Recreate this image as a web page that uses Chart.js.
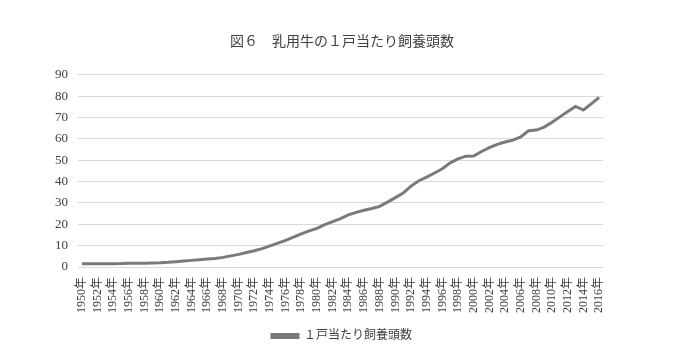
<!DOCTYPE html>
<html><head><meta charset="utf-8">
<script src="https://cdn.jsdelivr.net/npm/chart.js@4"></script>
<style>html,body{margin:0;padding:0;background:#fff}#wrap{width:684px;height:353px}</style>
</head><body><div id="wrap"><canvas id="c"></canvas></div>
<script>
const titleText = '図６　乳用牛の１戸当たり飼養頭数';
const seriesName = '１戸当たり飼養頭数';
const years = [];
for (let y = 1950; y <= 2016; y++) years.push(y + '年');
const values = [
 1.5,1.5,1.5,1.5,1.5,1.6,1.8,1.7,1.8,1.9,
 2.0,2.2,2.5,2.8,3.1,3.4,3.7,4.0,4.5,5.2,
 5.9,6.8,7.6,8.6,9.9,11.2,12.5,14.0,15.5,16.9,
 18.1,19.8,21.2,22.7,24.4,25.6,26.6,27.4,28.4,30.4,
 32.5,34.6,37.9,40.4,42.1,44.0,46.0,48.8,50.6,51.9,
 52.0,54.1,55.9,57.4,58.5,59.4,60.9,63.8,64.1,65.5,
 67.8,70.3,72.8,75.2,73.5,76.4,79.4
];
const yTicks = [0,10,20,30,40,50,60,70,80,90];
const serif = '"Liberation Serif", "DejaVu Serif", "Noto Sans CJK JP", serif';

new Chart(document.getElementById('c'), {
  type: 'line',
  data: { labels: years, datasets: [{
    label: seriesName, data: values,
    borderColor: '#7a7a7a', backgroundColor: '#7a7a7a',
    borderWidth: 3, pointRadius: 0, tension: 0
  }]},
  options: {
    responsive: true, maintainAspectRatio: false, animation: false,
    layout: { padding: { left: 0, right: 0, top: 34, bottom: 1 } },
    plugins: {
      title: { display: true, text: titleText, color: '#404040',
        font: { family: serif, size: 14, weight: 'normal' }, padding: { top: 0, bottom: 24 } },
      legend: { position: 'bottom', labels: { color: '#404040', boxWidth: 26, boxHeight: 3,
        font: { family: serif, size: 12 }, padding: 8 } },
      tooltip: { enabled: false }
    },
    scales: {
      x: {
        offset: true,
        grid: { display: false },
        border: { display: false },
        ticks: { autoSkip: false, minRotation: 90, maxRotation: 90, color: '#404040',
          font: { family: serif, size: 12 }, padding: 2,
          callback: function(v, i) { return i % 2 === 0 ? years[i] : ''; } },
        afterFit: function(s) { s.height = 55; }
      },
      y: {
        min: 0, max: 90,
        afterBuildTicks: function(s) { s.ticks = yTicks.map(v => ({ value: v })); },
        grid: { color: '#d9d9d9', lineWidth: 1, drawTicks: false },
        border: { display: false },
        ticks: { color: '#404040', font: { family: serif, size: 13 }, padding: 10 },
        afterFit: function(s) { s.width = 78; }
      },
      yRight: {
        position: 'right', min: 0, max: 90,
        grid: { display: false }, border: { display: false },
        ticks: { display: false },
        afterFit: function(s) { s.width = 81; }
      }
    }
  }
});
</script></body></html>
